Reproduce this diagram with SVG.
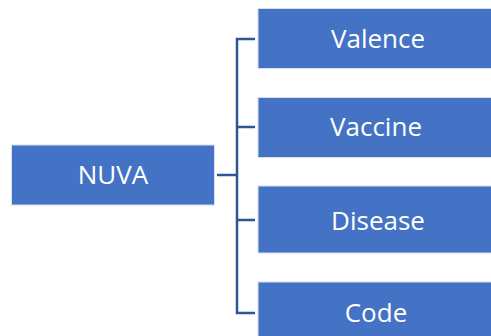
<svg xmlns="http://www.w3.org/2000/svg" width="491" height="336" viewBox="0 0 491 336">
<style>
.box{fill:#4472C4;stroke:#D6DEF0;stroke-width:1}
.lbl{font-family:"Open Sans","Noto Sans",sans-serif;font-size:26px;fill:#FFFFFF;text-anchor:middle}
.con{fill:none;stroke:#2F5597;stroke-width:2.5}
</style>
<rect width="491" height="336" fill="#FFFFFF"/>
<g id="connectors">
<path class="con" d="M217 175 H237"/>
<path class="con" d="M255 39 H237 V313 H255"/>
<path class="con" d="M237 127 H255"/>
<path class="con" d="M237 220 H255"/>
</g>
<g id="nuva"><rect class="box" x="11.5" y="145" width="203" height="60"/><text class="lbl" x="113" y="184">NUVA</text></g>
<g id="valence"><rect class="box" x="258" y="8.5" width="240" height="60"/><text class="lbl" x="378" y="48">Valence</text></g>
<g id="vaccine"><rect class="box" x="258" y="97.5" width="240" height="60"/><text class="lbl" x="376" y="136">Vaccine</text></g>
<g id="disease"><rect class="box" x="258" y="186" width="240" height="67"/><text class="lbl" x="378" y="230">Disease</text></g>
<g id="code"><rect class="box" x="258" y="282" width="240" height="67"/><text class="lbl" x="376" y="322">Code</text></g>
</svg>
